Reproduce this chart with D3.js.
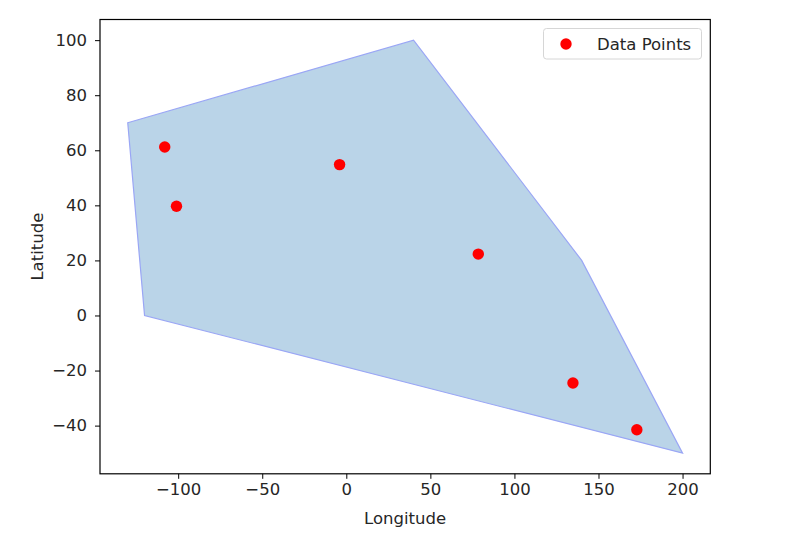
<!DOCTYPE html>
<html>
<head>
<meta charset="utf-8">
<script src="https://cdn.jsdelivr.net/npm/d3@7"></script>
<style>
  body { margin: 0; background: #fff; }
  text { font-family: "DejaVu Sans", sans-serif; fill: #262626; }
</style>
</head>
<body>
<svg id="chart" width="795" height="540"></svg>
<script>
// Polygon (hull) vertices: longitude, latitude
const polyLon = [-130, 40, 140, 200, -120];
const polyLat = [70, 100, 20, -50, 0];
// Data points
const pointLon = [-108, -101, -4, 78.5, 134.8, 172.8];
const pointLat = [61.2, 39.7, 54.8, 22.3, -24.5, -41.5];
// Ticks
const xTicks = [-100, -50, 0, 50, 100, 150, 200];
const yTicks = [-40, -20, 0, 20, 40, 60, 80, 100];
const legendLabel = "Data Points";
const xLabel = "Longitude";
const yLabel = "Latitude";

const FS = 16.5;
const svg = d3.select("#chart");
const L = 100, R = 710.3, T = 19.5, B = 473.8;

const x = d3.scaleLinear().domain([-146.5, 216.5]).range([L, R]);
const y = d3.scaleLinear().domain([-57.5, 107.5]).range([B, T]);

const polygon = polyLon.map((v, i) => [x(v), y(polyLat[i])]);
svg.append("path")
  .attr("d", d3.line()(polygon) + "Z")
  .attr("fill", "#bad4e8")
  .attr("stroke", "#9aa6f5")
  .attr("stroke-width", 1.2)
  .attr("stroke-linejoin", "miter");

svg.append("g").selectAll("circle")
  .data(pointLon.map((v, i) => [v, pointLat[i]]))
  .join("circle")
  .attr("cx", d => x(d[0]))
  .attr("cy", d => y(d[1]))
  .attr("r", 5.7)
  .attr("fill", "#ff0000");

const fmt = d => d < 0 ? "\u2212" + Math.abs(d) : String(d);

const xAxis = svg.append("g")
  .attr("transform", `translate(0,${B})`)
  .call(d3.axisBottom(x).tickValues(xTicks).tickFormat(fmt).tickSize(5).tickPadding(4));
const yAxis = svg.append("g")
  .attr("transform", `translate(${L},0)`)
  .call(d3.axisLeft(y).tickValues(yTicks).tickFormat(fmt).tickSize(5).tickPadding(8));

[xAxis, yAxis].forEach(g => {
  g.select(".domain").remove();
  g.selectAll(".tick line").attr("stroke", "#000").attr("stroke-width", 1);
  g.selectAll(".tick text")
    .attr("font-family", "DejaVu Sans")
    .attr("font-size", FS)
    .attr("fill", "#262626");
});

// Frame
svg.append("rect")
  .attr("x", L).attr("y", T)
  .attr("width", R - L).attr("height", B - T)
  .attr("fill", "none").attr("stroke", "#000").attr("stroke-width", 1.2);

// Axis labels
svg.append("text")
  .attr("x", (L + R) / 2).attr("y", 524)
  .attr("text-anchor", "middle")
  .attr("font-size", FS)
  .text(xLabel);
svg.append("text")
  .attr("transform", `translate(43,${(T + B) / 2}) rotate(-90)`)
  .attr("text-anchor", "middle")
  .attr("font-size", FS)
  .text(yLabel);

// Legend
const lg = svg.append("g");
lg.append("rect")
  .attr("x", 543.5).attr("y", 28.5)
  .attr("width", 158).attr("height", 30.5)
  .attr("rx", 3)
  .attr("fill", "#fff").attr("fill-opacity", 0.8)
  .attr("stroke", "#d6d6d6").attr("stroke-width", 1);
lg.append("circle")
  .attr("cx", 566).attr("cy", 44).attr("r", 5.7).attr("fill", "#ff0000");
lg.append("text")
  .attr("x", 597).attr("y", 50)
  .attr("font-size", FS)
  .text(legendLabel);
</script>
</body>
</html>
